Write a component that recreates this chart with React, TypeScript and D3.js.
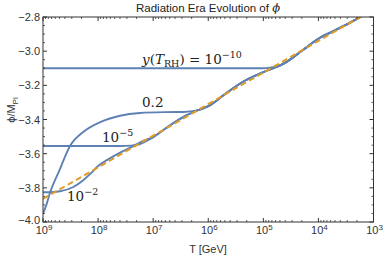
import React from "react";
import * as d3 from "d3";

// attractor (orange dashed), log10 of T in GeV
const attractorLogT = [9, 8, 7, 6, 5, 4, 3];
const attractorPhi = [-3.865, -3.68, -3.495, -3.31, -3.125, -2.94, -2.755];

// shared wiggly tail that the blue curves follow once they reach the attractor
const tailLogT = [7.0, 6.7, 6.4, 6.2, 6.0, 5.7, 5.4, 5.0, 4.6, 4.3, 4.0, 3.7, 3.4, 3.1];
const tailPhi = [-3.503, -3.435, -3.376, -3.347, -3.322, -3.2525, -3.185, -3.123, -3.067, -2.9975, -2.927, -2.8785, -2.829, -2.7735];

const y1e10LogT = [9, 6, 5.1, 4.95, 4.82, 4.7];
const y1e10Phi = [-3.1, -3.1, -3.1, -3.099, -3.094, -3.083];

const y02LogT = [9, 8.95, 8.87, 8.7, 8.51, 8.27, 7.96, 7.6, 7.24, 6.8, 6.45];
const y02Phi = [-3.95, -3.91, -3.826, -3.696, -3.555, -3.473, -3.415, -3.378, -3.362, -3.357, -3.356];

const y1e5LogT = [9, 7.6, 7.4, 7.25, 7.1];
const y1e5Phi = [-3.555, -3.555, -3.553, -3.545, -3.522];

const y1e2LogT = [9, 8.9, 8.69, 8.45, 8.27, 8.1, 8.0, 7.84, 7.6, 7.4, 7.2];
const y1e2Phi = [-3.826, -3.826, -3.82, -3.795, -3.755, -3.705, -3.672, -3.638, -3.594, -3.562, -3.528];

const xTickExps = [9, 8, 7, 6, 5, 4, 3];
const yTickValues = [-4.0, -3.8, -3.6, -3.4, -3.2, -3.0, -2.8];

const W = 383, H = 256;
const left = 43, right = 373.5, top = 17, bottom = 222;
const BLUE = "#5E81B5";
const ORANGE = "#E19C24";
const AXIS = "#333";

type Pt = [number, number];

function withTail(logT: number[], phi: number[]): Pt[] {
  const pts: Pt[] = logT.map((t, i) => [Math.pow(10, t), phi[i]]);
  const last = logT[logT.length - 1];
  tailLogT.forEach((t, i) => {
    if (t < last - 0.05) pts.push([Math.pow(10, t), tailPhi[i]]);
  });
  return pts;
}

export default function App() {
  const x = d3.scaleLog().domain([1e9, 1e3]).range([left, right]);
  const y = d3.scaleLinear().domain([-4.0, -2.8]).range([bottom, top]);

  const line = d3
    .line<Pt>()
    .x((d) => x(d[0]))
    .y((d) => y(d[1]))
    .curve(d3.curveMonotoneX);

  const blueCurves = [
    withTail(y1e10LogT, y1e10Phi),
    withTail(y02LogT, y02Phi),
    withTail(y1e5LogT, y1e5Phi),
    withTail(y1e2LogT, y1e2Phi),
  ];
  const attractor: Pt[] = attractorLogT.map((t, i) => [Math.pow(10, t), attractorPhi[i]]);

  const xMinor = x.ticks().filter((v) => Math.abs(Math.log10(v) - Math.round(Math.log10(v))) > 1e-6);
  const yMinor = y.ticks(24).filter((v) => !yTickValues.some((m) => Math.abs(m - v) < 1e-6));

  const serif = "'DejaVu Serif', serif";
  const sans = "'Liberation Sans', Arial, sans-serif";

  return (
    <svg width={W} height={H} style={{ position: "absolute", left: 0, top: 0 }} fontFamily={sans}>
      <defs>
        <clipPath id="plot">
          <rect x={left} y={top} width={right - left} height={bottom - top} />
        </clipPath>
      </defs>

      <text x={208} y={12} textAnchor="middle" fontSize={11.5} fill="#222">
        Radiation Era Evolution of <tspan fontStyle="italic" fontFamily={serif}>ϕ</tspan>
      </text>

      <g clipPath="url(#plot)">
        {blueCurves.map((c, i) => (
          <path key={i} d={line(c) || ""} fill="none" stroke={BLUE} strokeWidth={1.9} />
        ))}
        <path d={line(attractor) || ""} fill="none" stroke={ORANGE} strokeWidth={2} strokeDasharray="6,3.5" />
      </g>

      {/* frame */}
      <rect x={left} y={top} width={right - left} height={bottom - top} fill="none" stroke={AXIS} strokeWidth={1} />

      {/* x ticks (bottom & top) */}
      {xTickExps.map((e) => {
        const px = x(Math.pow(10, e));
        return (
          <g key={"xm" + e}>
            <line x1={px} x2={px} y1={bottom} y2={bottom - 4} stroke={AXIS} />
            <line x1={px} x2={px} y1={top} y2={top + 4} stroke={AXIS} />
            <text x={px + 1} y={234} textAnchor="middle" fontSize={11} fill="#333">
              10<tspan dy={-4.5} fontSize={8}>{e}</tspan>
            </text>
          </g>
        );
      })}
      {xMinor.map((v, i) => {
        const px = x(v);
        return (
          <g key={"xn" + i}>
            <line x1={px} x2={px} y1={bottom} y2={bottom - 2} stroke={AXIS} strokeWidth={0.8} />
            <line x1={px} x2={px} y1={top} y2={top + 2} stroke={AXIS} strokeWidth={0.8} />
          </g>
        );
      })}

      {/* y ticks (left & right) */}
      {yTickValues.map((v) => {
        const py = y(v);
        return (
          <g key={"ym" + v}>
            <line x1={left} x2={left + 4} y1={py} y2={py} stroke={AXIS} />
            <line x1={right} x2={right - 4} y1={py} y2={py} stroke={AXIS} />
            <text x={40} y={py + (v === -4.0 ? 2 : 4)} textAnchor="end" fontSize={11} fill="#333">
              {"−" + Math.abs(v).toFixed(1)}
            </text>
          </g>
        );
      })}
      {yMinor.map((v, i) => {
        const py = y(v);
        return (
          <g key={"yn" + i}>
            <line x1={left} x2={left + 2} y1={py} y2={py} stroke={AXIS} strokeWidth={0.8} />
            <line x1={right} x2={right - 2} y1={py} y2={py} stroke={AXIS} strokeWidth={0.8} />
          </g>
        );
      })}

      <text x={208} y={253} textAnchor="middle" fontSize={11} fill="#333">
        T [GeV]
      </text>
      <text transform="translate(15,110) rotate(-90)" textAnchor="middle" fontSize={11} fill="#333">
        ϕ/M<tspan dy={2.5} fontSize={8}>Pl</tspan>
      </text>

      {/* curve labels */}
      <g fontFamily={serif} fontSize={13.5} fill="#222">
        <text x={142} y={64}>
          <tspan fontStyle="italic">y</tspan>(<tspan fontStyle="italic">T</tspan>
          <tspan dy={3} fontSize={9.5}>RH</tspan>
          <tspan dy={-3}>) = 10</tspan>
          <tspan dy={-6} fontSize={9.5}>−10</tspan>
        </text>
        <text x={142} y={107}>0.2</text>
        <text x={102} y={142}>
          10<tspan dy={-6} fontSize={9.5}>−5</tspan>
        </text>
        <text x={67} y={201}>
          10<tspan dy={-6} fontSize={9.5}>−2</tspan>
        </text>
      </g>
    </svg>
  );
}
